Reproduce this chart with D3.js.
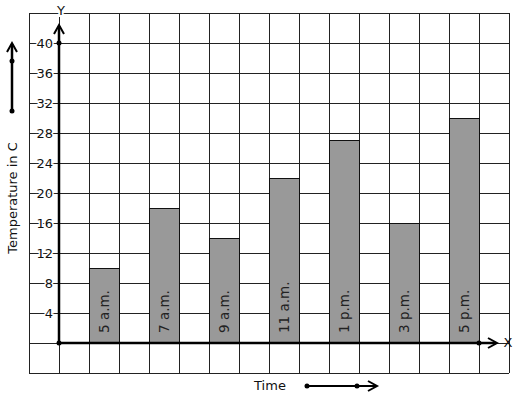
<!DOCTYPE html>
<html>
<head>
<meta charset="utf-8">
<script src="https://cdn.jsdelivr.net/npm/d3@7"></script>
<style>
  html, body { margin: 0; padding: 0; background: #fff; }
  svg { display: block; font-family: "DejaVu Sans", sans-serif; }
</style>
</head>
<body>
<svg id="chart" width="517" height="399"></svg>
<script>
const categories = ["5 a.m.", "7 a.m.", "9 a.m.", "11 a.m.", "1 p.m.", "3 p.m.", "5 p.m."];
const temperatures = [10, 18, 14, 22, 27, 16, 30];
const yTicks = [4, 8, 12, 16, 20, 24, 28, 32, 36, 40];
const yTitle = "Temperature in C";
const xTitle = "Time";

const svg = d3.select("#chart");

// grid units: columns -1..15 (16 cells), rows -4..44 (12 cells of 4)
const gx = d3.scaleLinear().domain([-1, 15]).range([29, 509]);
const y = d3.scaleLinear().domain([-4, 44]).range([373, 13]);
const x = d3.scaleBand().domain(categories).range([74, 494]).paddingInner(0.5).paddingOuter(0.25);

const grid = svg.append("g").attr("stroke", "#222").attr("stroke-width", 1).attr("shape-rendering", "crispEdges");
d3.range(-1, 16).forEach(c => {
  grid.append("line").attr("x1", gx(c)).attr("x2", gx(c)).attr("y1", y(-4)).attr("y2", y(44));
});
d3.range(-4, 45, 4).forEach(v => {
  grid.append("line").attr("x1", gx(-1)).attr("x2", gx(15)).attr("y1", y(v)).attr("y2", y(v));
});

// bars
svg.append("g").selectAll("rect").data(categories).join("rect")
  .attr("x", d => x(d))
  .attr("width", x.bandwidth())
  .attr("y", (d, i) => y(temperatures[i]))
  .attr("height", (d, i) => y(0) - y(temperatures[i]))
  .attr("fill", "#999999")
  .attr("stroke", "#111")
  .attr("stroke-width", 1)
  .attr("shape-rendering", "crispEdges");

// bar labels
svg.append("g").selectAll("text").data(categories).join("text")
  .attr("transform", d => `translate(${x(d) + x.bandwidth() / 2 + 5},${y(0) - 10}) rotate(-90)`)
  .attr("text-anchor", "start")
  .attr("font-size", 13.5)
  .attr("fill", "#222")
  .text(d => d);

// y tick labels
svg.append("g").selectAll("text").data(yTicks).join("text")
  .attr("x", 53)
  .attr("y", d => y(d) + 4.5)
  .attr("text-anchor", "end")
  .attr("font-size", 13)
  .attr("fill", "#111")
  .attr("stroke", "#fff")
  .attr("stroke-width", 3)
  .attr("paint-order", "stroke")
  .text(d => d);

function chevron(g, x0, y0, dir) {
  // open arrowhead at tip (x0,y0)
  let p;
  if (dir === "up") p = [[x0 - 5, y0 + 9], [x0, y0], [x0 + 5, y0 + 9]];
  else p = [[x0 - 9, y0 - 5], [x0, y0], [x0 - 9, y0 + 5]];
  g.append("path").attr("d", d3.line()(p)).attr("fill", "none").attr("stroke", "#000").attr("stroke-width", 2);
}

const ax = svg.append("g");
// y axis
ax.append("line").attr("x1", gx(0)).attr("x2", gx(0)).attr("y1", y(0)).attr("y2", 26)
  .attr("stroke", "#000").attr("stroke-width", 2.5);
chevron(ax, gx(0), 25, "up");
// x axis
ax.append("line").attr("x1", gx(0)).attr("x2", 496).attr("y1", y(0)).attr("y2", y(0))
  .attr("stroke", "#000").attr("stroke-width", 2.5);
chevron(ax, 497, y(0), "right");
// dots
[[gx(0), y(0)], [gx(0), y(40)], [479, y(0)]].forEach(([cx, cy]) => {
  ax.append("circle").attr("cx", cx).attr("cy", cy).attr("r", 2.5).attr("fill", "#000");
});

// axis letters
svg.append("text").attr("x", 61).attr("y", 15).attr("text-anchor", "middle").attr("font-size", 13)
  .attr("fill", "#111").attr("stroke", "#fff").attr("stroke-width", 4).attr("paint-order", "stroke").text("Y");
svg.append("text").attr("x", 508).attr("y", 347).attr("text-anchor", "middle").attr("font-size", 13)
  .attr("fill", "#111").text("X");

// y title and side arrow
svg.append("text").attr("transform", "translate(17,198) rotate(-90)").attr("text-anchor", "middle")
  .attr("font-size", 13).attr("fill", "#111").text(yTitle);
const la = svg.append("g");
la.append("line").attr("x1", 12).attr("x2", 12).attr("y1", 111).attr("y2", 44)
  .attr("stroke", "#000").attr("stroke-width", 2.5);
chevron(la, 12, 43, "up");
[61, 111].forEach(cy => la.append("circle").attr("cx", 12).attr("cy", cy).attr("r", 2.5).attr("fill", "#000"));

// x title and arrow
svg.append("text").attr("x", 270).attr("y", 390).attr("text-anchor", "middle")
  .attr("font-size", 13).attr("fill", "#111").text(xTitle);
const ba = svg.append("g");
ba.append("line").attr("x1", 307).attr("x2", 376).attr("y1", 386).attr("y2", 386)
  .attr("stroke", "#000").attr("stroke-width", 2);
chevron(ba, 377, 386, "right");
[307, 357].forEach(cx => ba.append("circle").attr("cx", cx).attr("cy", 386).attr("r", 2.5).attr("fill", "#000"));
</script>
</body>
</html>
